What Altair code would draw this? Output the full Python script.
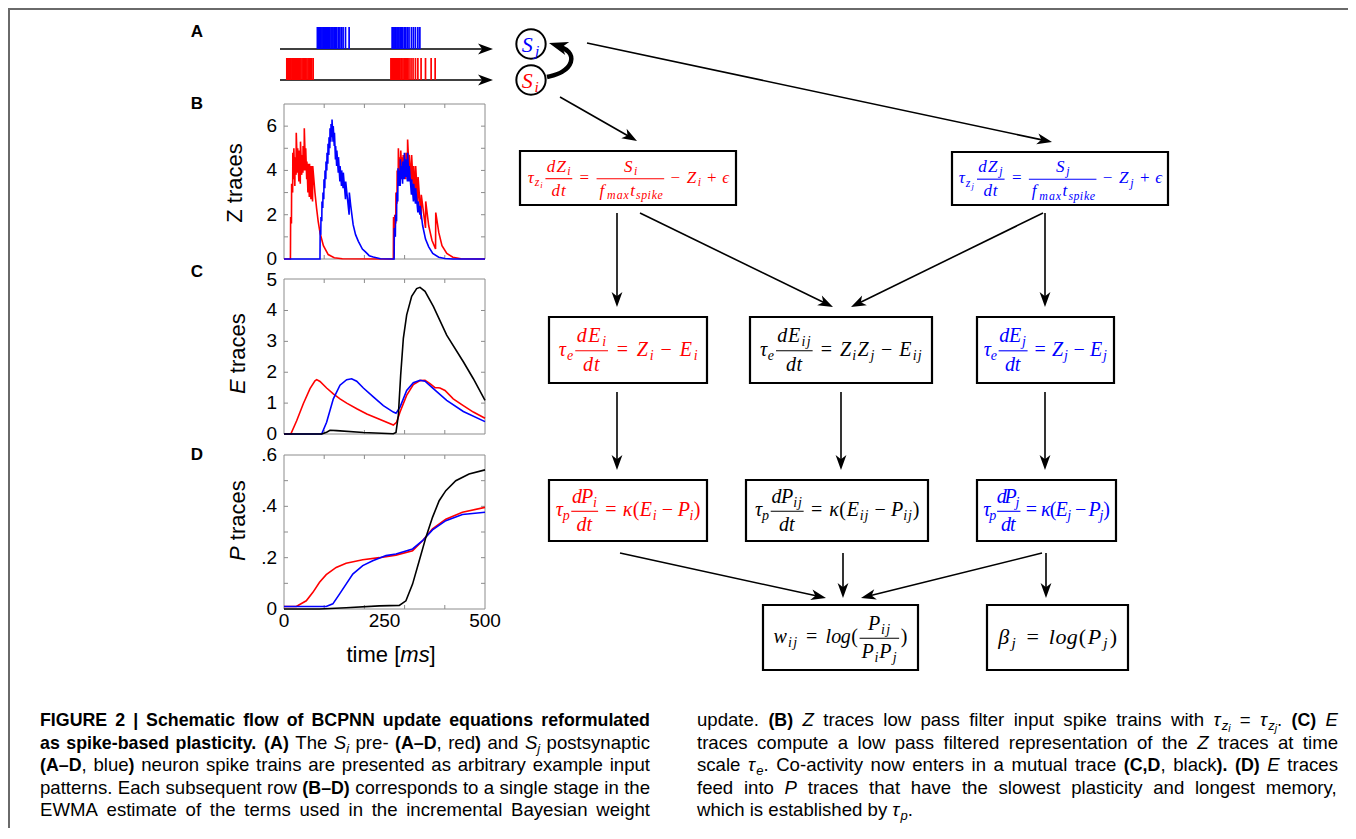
import math
import altair as alt
import pandas as pd

# ============================ data ============================
# A: spike times [ms]
spikes_pre = [7, 9, 11.5, 13, 15.5, 17.5, 20, 22, 24.5, 27, 29, 31.5, 34, 36.5, 39, 42, 45, 48, 51, 54, 57, 60, 63, 66, 69, 72.5,
              266, 268, 270.5, 273, 275, 278, 280, 283, 285.5, 288, 291, 293, 296, 299, 302, 305, 308, 311, 316, 321, 327,
              333, 341, 352, 366, 376]
spikes_post = [83, 85, 87.5, 90, 92, 94.5, 97, 99, 101.5, 104, 106, 109, 111.5, 114, 117, 119.5, 122, 125, 128, 131, 135,
               139, 143, 147, 153, 162,
               269, 271, 273.5, 276, 278, 281, 283.5, 286, 289, 292, 295, 299, 303, 307, 311, 317, 322, 327, 333, 338]

# B: Z traces (time ms, value)
z_pre = [(0, 0), (16, 0), (16.5, 1.9), (18.5, 1.6), (19, 3.4), (21.5, 3.0), (22, 4.8), (24, 3.6), (24.5, 5.0), (27, 3.3),
         (27.5, 4.6), (30, 3.8), (30.5, 5.7), (33.5, 3.9), (34, 5.0), (37, 3.5), (37.5, 4.9), (40.5, 3.4), (41, 5.3),
         (44, 3.8), (44.5, 4.7), (47, 3.9), (47.5, 5.1), (50, 4.0), (50.5, 5.9), (53.5, 4.0), (54, 5.0), (56.5, 3.6),
         (57, 4.4), (59.5, 3.0), (60, 4.3), (63, 2.8), (63.5, 4.3), (67, 2.7), (67.5, 4.2), (71, 2.6), (71.5, 4.2),
         (77, 3.0), (81, 2.3), (85, 1.7), (90, 1.15), (98, 0.6), (110, 0.2), (125, 0.06), (145, 0.01), (272, 0),
         (272.5, 1.9), (275, 1.2), (275.5, 2.0), (278, 1.6), (278.5, 3.0), (281, 2.5), (281.5, 4.0), (284, 3.3),
         (284.5, 5.0), (287, 3.8), (287.5, 4.6), (290, 3.6), (290.5, 4.9), (293, 3.8), (293.5, 4.6), (296, 3.9),
         (296.5, 4.7), (299, 3.7), (299.5, 4.4), (303, 3.6), (303.5, 4.8), (307, 4.0), (307.5, 5.4), (311, 4.0),
         (311.5, 4.7), (317, 3.5), (317.5, 4.7), (322, 3.1), (322.5, 4.2), (327, 2.9), (327.5, 4.2), (333, 2.5),
         (333.5, 3.7), (341, 1.8), (341.5, 2.9), (352, 1.4), (352.5, 2.6), (360, 1.5), (368, 0.85), (377, 0.45),
         (377.5, 2.1), (385, 1.2), (393, 0.6), (405, 0.25), (420, 0.08), (440, 0.01), (500, 0)]
z_post = [(0, 0), (89.5, 0), (90, 1.3), (91.5, 1.1), (92, 1.9), (94, 1.7), (94.5, 2.6), (96.5, 2.3), (97, 3.0), (99, 2.7),
          (99.5, 3.6), (101.5, 3.2), (102, 4.0), (104, 3.6), (104.5, 4.4), (106.5, 4.0), (107, 4.8), (109, 4.3),
          (109.5, 5.2), (111.5, 4.7), (112, 5.5), (114, 5.0), (114.5, 5.9), (116.5, 5.3), (117, 6.1), (119, 5.5),
          (119.5, 6.3), (122, 5.3), (122.5, 6.0), (125, 5.1), (125.5, 5.7), (128, 4.5), (128.5, 5.1), (131, 4.2),
          (131.5, 4.9), (135, 3.9), (135.5, 4.6), (139, 3.5), (139.5, 4.2), (143, 3.3), (143.5, 4.0), (147, 3.2),
          (147.5, 3.9), (153, 2.7), (153.5, 3.5), (162, 2.0), (162.5, 3.0), (166, 2.4), (172, 1.55), (178, 1.1),
          (185, 0.8), (195, 0.45), (202, 0.33), (212, 0.15), (222, 0.09), (240, 0.01), (274, 0), (274.5, 1.4),
          (277, 1.0), (277.5, 2.0), (280, 1.7), (280.5, 3.0), (283, 2.6), (283.5, 4.1), (286, 3.3), (286.5, 4.0),
          (289, 3.3), (289.5, 4.5), (292, 3.6), (292.5, 4.2), (295, 3.4), (295.5, 4.4), (299, 3.6), (299.5, 4.8),
          (303, 3.7), (303.5, 4.5), (307, 3.5), (307.5, 4.8), (311, 3.5), (311.5, 4.2), (317, 2.9), (317.5, 3.6),
          (322, 2.6), (322.5, 3.4), (327, 2.5), (327.5, 3.2), (333, 2.1), (333.5, 2.6), (338, 2.0), (338.5, 2.4),
          (345, 1.5), (352, 0.9), (360, 0.55), (370, 0.25), (385, 0.08), (400, 0.02), (420, 0), (500, 0)]

# C: E traces
e_pre = [(0, 0), (17, 0), (31.5, 0.43), (48, 0.98), (64.7, 1.47), (77, 1.72), (81.3, 1.76), (89.6, 1.7), (106, 1.49),
         (122.7, 1.3), (139.3, 1.14), (156, 1.0), (181, 0.82), (206, 0.65), (239, 0.47), (272, 0.29), (280, 0.38),
         (288.6, 0.71), (305, 1.25), (321.7, 1.6), (338.3, 1.73), (350.8, 1.74), (363.2, 1.63), (375.6, 1.5),
         (383, 1.5), (388, 1.49), (400.5, 1.41), (421, 1.14), (446, 0.92), (471, 0.71), (500, 0.51)]
e_post = [(0, 0), (93.7, 0), (106, 0.38), (122.7, 1.14), (139.3, 1.58), (155.9, 1.76), (168.3, 1.79), (180.8, 1.71),
          (197.4, 1.49), (222.2, 1.2), (247.1, 0.92), (272, 0.71), (278.6, 0.67), (288.6, 0.87), (305.2, 1.41),
          (321.7, 1.66), (338.3, 1.74), (350.8, 1.71), (371.5, 1.47), (404.7, 1.09), (446.1, 0.73), (500, 0.4)]
e_co = [(0, 0), (93.7, 0), (106, 0.06), (114.4, 0.12), (131, 0.11), (197.4, 0.05), (272, 0.01), (278.6, 0.05),
        (284.4, 0.6), (290.2, 1.9), (296.9, 3.1), (305.2, 3.86), (317.6, 4.46), (330, 4.71), (338.3, 4.75),
        (350.8, 4.62), (371.5, 4.13), (404.7, 3.2), (446.1, 2.34), (471, 1.79), (500, 1.09)]

# D: P traces
p_pre = [(0, 0.01), (30.6, 0.01), (55.4, 0.032), (71.9, 0.065), (88.4, 0.104), (105, 0.134), (129.8, 0.162),
         (154.5, 0.178), (195.9, 0.192), (237.2, 0.2), (278.5, 0.21), (319.8, 0.227), (344.6, 0.266), (369.4, 0.312),
         (402.5, 0.35), (443.8, 0.377), (500, 0.396)]
p_post = [(0, 0.01), (105, 0.01), (121.5, 0.02), (138, 0.058), (154.5, 0.097), (171.1, 0.136), (195.9, 0.169),
          (220.7, 0.188), (253.7, 0.208), (278.5, 0.214), (319.8, 0.234), (344.6, 0.266), (369.4, 0.308),
          (402.5, 0.344), (443.8, 0.368), (500, 0.377)]
p_co = [(0, 0), (88, 0), (154.5, 0.005), (237.2, 0.012), (286.8, 0.014), (303.3, 0.032), (319.8, 0.097),
        (336.4, 0.188), (352.9, 0.279), (369.4, 0.357), (386, 0.422), (402.5, 0.461), (427.3, 0.5), (460.3, 0.526),
        (500, 0.542)]

z_labels = [0, 2, 4, 6]
z_ticks = [1, 2, 3, 4, 5, 6]
e_labels = [0, 1, 2, 3, 4, 5]
e_ticks = [1, 2, 3, 4]
p_label_vals = [0, 0.2, 0.4, 0.6]
p_label_txt = ['0', '.2', '.4', '.6']
p_ticks = [0.1, 0.2, 0.3, 0.4, 0.5]
t_labels = [0, 250, 500]
t_ticks = [100, 200, 300, 400]

caption_left = [
    [('b', 'FIGURE 2 | Schematic flow of BCPNN update equations reformulated')],
    [('b', 'as spike-based plasticity. (A)'), ('r', ' The '), ('i', 'S'), ('s', 'i'), ('r', ' pre- '), ('b', '(A–D'),
     ('r', ', red'), ('b', ')'), ('r', ' and '), ('i', 'S'), ('s', 'j'), ('r', ' postsynaptic')],
    [('b', '(A–D'), ('r', ', blue'), ('b', ')'), ('r', ' neuron spike trains are presented as arbitrary example input')],
    [('r', 'patterns. Each subsequent row '), ('b', '(B–D)'), ('r', ' corresponds to a single stage in the')],
    [('r', 'EWMA estimate of the terms used in the incremental Bayesian weight')],
]
caption_right = [
    [('r', 'update. '), ('b', '(B)'), ('r', ' '), ('i', 'Z'), ('r', ' traces low pass filter input spike trains with '),
     ('i', 'τ'), ('s', 'z'), ('ss', 'i'), ('r', ' = '), ('i', 'τ'), ('s', 'z'), ('ss', 'j'), ('r', '. '), ('b', '(C)'),
     ('r', ' '), ('i', 'E')],
    [('r', 'traces compute a low pass filtered representation of the '), ('i', 'Z'), ('r', ' traces at time')],
    [('r', 'scale '), ('i', 'τ'), ('s', 'e'), ('r', '. Co-activity now enters in a mutual trace '), ('b', '(C,D'),
     ('r', ', black'), ('b', ').'), ('r', ' '), ('b', '(D)'), ('r', ' '), ('i', 'E'), ('r', ' traces')],
    [('r', 'feed into '), ('i', 'P'), ('r', ' traces that have the slowest plasticity and longest memory,')],
    [('r', 'which is established by '), ('i', 'τ'), ('s', 'p'), ('r', '.')],
]

# ============================ layout / style ============================
W, H = 1340, 820
OX, OY = 8, 8
PX0, PX1 = 284, 485
RED, BLUE, BLACK = '#ff0000', '#0000ff', '#000000'
SANS = 'Liberation Sans, Arial, Helvetica, sans-serif'
SERIF = 'Liberation Serif, DejaVu Serif, serif'
GRAY = '#8c8c8c'

XC = alt.Scale(domain=[OX, OX + W], range=[0, W], nice=False, zero=False)
YC = alt.Scale(domain=[OY, OY + H], range=[0, H], nice=False, zero=False)
XT = alt.Scale(domain=[0, 500], range=[PX0 - OX, PX1 - OX], nice=False, zero=False)


def cx(f):
    return alt.X(f + ':Q', scale=XC, axis=None)


def cy(f):
    return alt.Y(f + ':Q', scale=YC, axis=None)


rows = []


def add_text(x, y, text, size, color=BLACK, font=SANS, style='normal', weight='normal', align='left',
             baseline='alphabetic', angle=0):
    rows.append(dict(x=x, y=y, text=text, size=size, color=color, font=font, style=style, weight=weight,
                     align=align, baseline=baseline, angle=angle))


# ---------------- equation typesetting (Computer Modern-like advances) ----------------
CMI = dict(a=.529, b=.429, c=.433, d=.520, e=.466, f=.490, g=.477, h=.576, i=.345, j=.412, k=.521, l=.298, m=.878,
           n=.600, o=.485, p=.503, q=.446, r=.451, s=.469, t=.361, u=.572, v=.485, w=.716, x=.572, y=.490, z=.465,
           E=.738, P=.642, S=.613, Z=.681)
CMI.update({'τ': .438, 'κ': .576, 'β': .566, 'ϵ': .406})
CMR = {'(': .389, ')': .389, '=': .778, '+': .778, '−': .778}
SC = {'i': 1.0, 'r': 1.0, 's': 0.7, 'ss': 0.5}
DY = {'i': 0, 'r': 0, 's': 0.2, 'ss': 0.3}
AXH, NUM, DEN = 0.25, 0.42, 1.0


def I(t): return ('i', t)
def R(t): return ('r', t)
def S(t): return ('s', t)
def SS(t): return ('ss', t)
def SP(w): return ('sp', w)
def FR(n, d): return ('frac', n, d)


REL = [SP(.2778), R('='), SP(.2778)]


def BIN(c):
    return [SP(.2222), R(c), SP(.2222)]


def measure(items):
    w = 0.0
    for it in items:
        if it[0] == 'sp':
            w += it[1]
        elif it[0] == 'frac':
            w += max(measure(it[1]), measure(it[2])) + 0.24
        else:
            tbl = CMR if it[0] == 'r' else CMI
            w += sum(tbl.get(c, .5) for c in it[1]) * SC[it[0]]
    return w


bars = []


def emit(items, x, base, fs, color, hs=1.0):
    for it in items:
        k = it[0]
        if k == 'sp':
            x += it[1] * fs * hs
        elif k == 'frac':
            fw = (max(measure(it[1]), measure(it[2])) + 0.24) * fs * hs
            axis = base - AXH * fs
            nw, dw = measure(it[1]) * fs * hs, measure(it[2]) * fs * hs
            emit(it[1], x + (fw - nw) / 2, axis - NUM * fs, fs, color, hs)
            emit(it[2], x + (fw - dw) / 2, axis + DEN * fs, fs, color, hs)
            bars.append(dict(x=x + 0.05 * fs, x2=x + fw - 0.05 * fs, y=axis, color=color))
            x += fw
        else:
            tbl = CMR if k == 'r' else CMI
            sc = SC[k]
            for c in it[1]:
                adv = tbl.get(c, .5) * fs * sc * hs
                add_text(x + adv / 2, base + DY[k] * fs, c, fs * sc, color, SERIF,
                         'normal' if k == 'r' else 'italic', 'normal', 'center')
                x += adv
    return x


def place_eq(items, box, fs, color, target):
    x0, y0, x1, y1 = box
    hs = target / (measure(items) * fs)
    axis = (y0 + y1) / 2 + 0.04 * fs
    emit(items, (x0 + x1) / 2 - target / 2, axis + AXH * fs, fs, color, hs)


boxes = {
    'zi': (520, 151, 736, 205), 'zj': (952, 152, 1168, 205),
    'ei': (549, 317, 707, 383), 'eij': (750, 317, 932, 383), 'ej': (977, 317, 1114, 383),
    'pi': (549, 480, 707, 541), 'pij': (746, 480, 928, 541), 'pj': (977, 480, 1116, 541),
    'w': (763, 605, 918, 670), 'b': (987, 605, 1128, 670),
}


def eq_z(k):
    return ([I('τ'), S('z'), SS(k), SP(.1), FR([I('dZ'), S(k)], [I('dt')])] + REL +
            [FR([I('S'), S(k)], [I('f'), S('max'), I('t'), S('spike')])] + BIN('−') + [I('Z'), S(k)] + BIN('+') +
            [I('ϵ')])


def eq_e(k):
    rhs = [I('Z'), S('i'), I('Z'), S('j')] if k == 'ij' else [I('Z'), S(k)]
    return [I('τ'), S('e'), SP(.05), FR([I('dE'), S(k)], [I('dt')])] + REL + rhs + BIN('−') + [I('E'), S(k)]


def eq_p(k):
    return ([I('τ'), S('p'), SP(.05), FR([I('dP'), S(k)], [I('dt')])] + REL + [I('κ'), R('('), I('E'), S(k)] +
            BIN('−') + [I('P'), S(k), R(')')])


place_eq(eq_z('i'), boxes['zi'], 17, RED, 202)
place_eq(eq_z('j'), boxes['zj'], 17, BLUE, 204)
place_eq(eq_e('i'), boxes['ei'], 20, RED, 140)
place_eq(eq_e('ij'), boxes['eij'], 20, BLACK, 163)
place_eq(eq_e('j'), boxes['ej'], 20, BLUE, 124)
place_eq(eq_p('i'), boxes['pi'], 20, RED, 145)
place_eq(eq_p('ij'), boxes['pij'], 20, BLACK, 165)
place_eq(eq_p('j'), boxes['pj'], 20, BLUE, 126)
place_eq([I('w'), S('ij')] + REL + [I('log'), R('('), FR([I('P'), S('ij')], [I('P'), S('i'), I('P'), S('j')]), R(')')],
         boxes['w'], 20, BLACK, 135)
place_eq([I('β'), S('j')] + REL + [I('log'), R('('), I('P'), S('j'), R(')')], boxes['b'], 22, BLACK, 121)

# neuron nodes
circles = [dict(x=531, y=44), dict(x=531, y=80)]
emit([I('S'), S('j')], 531 - 10.5, 44 + 7.5, 22, BLUE)
emit([I('S'), S('i')], 531 - 10.5, 80 + 7.5, 22, RED)

# ---------------- arrows ----------------
shafts, heads = [], []


def arrow(x1, y1, x2, y2, L=15):
    dx, dy = x2 - x1, y2 - y1
    n = math.hypot(dx, dy)
    ux, uy = dx / n, dy / n
    shafts.append(dict(x=x1, y=y1, x2=x2 - ux * L * 0.6, y2=y2 - uy * L * 0.6))
    heads.append(dict(x=x2, y=y2, ang=math.degrees(math.atan2(dx, -dy)) % 360, size=L * L))


for a in [(560, 97, 637, 141), (587, 43, 1052, 142), (617, 213, 617, 307), (640, 213, 833, 307),
          (1043, 213, 851, 307), (1045, 213, 1045, 307), (617, 392, 617, 470), (841, 392, 841, 470),
          (1045, 392, 1045, 470), (620, 553, 826, 598), (843, 553, 843, 598), (1042, 553, 861, 598),
          (1046, 553, 1046, 598)]:
    arrow(*a)
# input-train arrows of panel A
arrow(280, 49, 493, 49)
arrow(280, 80, 493, 80)
# thick self-connection arc
arc = [(547, 77), (563, 73), (573, 62), (570, 51), (559, 46)]
heads.append(dict(x=549, y=43, ang=math.degrees(math.atan2(-10, 3)) % 360, size=19 * 19))

# ---------------- labels ----------------
for lab, y in [('A', 32), ('B', 104), ('C', 272), ('D', 455)]:
    add_text(197, y, lab, 17, weight='bold', align='center', baseline='middle')

add_text(235, 183, 'Z traces', 22, align='center', baseline='middle', angle=270)
for letter, yc in [('E', 354), ('P', 521)]:
    ybot = yc + 40
    add_text(238, ybot, letter, 22, style='italic', baseline='middle', angle=270)
    add_text(238, ybot - 14.7 - 6.1, 'traces', 22, baseline='middle', angle=270)
add_text(346.5, 655, 'time [', 22, baseline='middle')
add_text(400.3, 655, 'ms', 22, style='italic', baseline='middle')
add_text(429.6, 655, ']', 22, baseline='middle')

# ---------------- caption ----------------
HR = {' ': 278, '(': 333, ')': 333, ',': 278, '-': 333, '.': 278, '|': 260, '–': 556, '=': 584, '[': 278, ']': 278,
      'τ': 440, 'A': 667, 'B': 667, 'C': 722, 'D': 722, 'E': 667, 'F': 611, 'G': 778, 'H': 722, 'I': 278, 'J': 500,
      'K': 667, 'L': 556, 'M': 833, 'N': 722, 'O': 778, 'P': 667, 'Q': 778, 'R': 722, 'S': 667, 'T': 611, 'U': 722,
      'V': 667, 'W': 944, 'X': 667, 'Y': 667, 'Z': 611, 'a': 556, 'b': 556, 'c': 500, 'd': 556, 'e': 556, 'f': 278,
      'g': 556, 'h': 556, 'i': 222, 'j': 222, 'k': 500, 'l': 222, 'm': 833, 'n': 556, 'o': 556, 'p': 556, 'q': 556,
      'r': 333, 's': 500, 't': 278, 'u': 556, 'v': 500, 'w': 722, 'x': 500, 'y': 500, 'z': 500}
for dgt in '0123456789':
    HR[dgt] = 556
HB = dict(HR)
HB.update({'A': 722, 'B': 722, 'C': 722, 'D': 722, 'J': 556, 'K': 722, 'L': 611, 'b': 611, 'c': 556, 'd': 611,
           'f': 333, 'g': 611, 'h': 611, 'i': 278, 'j': 278, 'k': 556, 'l': 278, 'm': 889, 'n': 611, 'o': 611,
           'p': 611, 'q': 611, 'r': 389, 's': 556, 't': 333, 'u': 611, 'v': 556, 'w': 778, 'x': 556, 'y': 556,
           '|': 280})
FS_REG, FS_BOLD = 18.6, 17.8
CAP_SC = {'s': 0.7, 'ss': 0.55}
CAP_DY = {'s': 0.22, 'ss': 0.34}


def cap_fs(style):
    return (FS_BOLD if style == 'b' else FS_REG) * CAP_SC.get(style, 1)


def words_of(segs):
    words = [[]]
    for style, txt in segs:
        for k, p in enumerate(txt.split(' ')):
            if k > 0:
                words.append([])
            if p:
                words[-1].append((style, p))
    return [w for w in words if w]


def cap_w(style, txt):
    tbl = HB if style == 'b' else HR
    return sum(tbl.get(c, 556) for c in txt) / 1000 * cap_fs(style)


def caption_line(segs, x0, x1, base, justify):
    words = words_of(segs)
    ww = [sum(cap_w(s, t) for s, t in w) for w in words]
    gap = (x1 - x0 - sum(ww)) / (len(words) - 1) if justify else 0.278 * FS_REG
    x = x0
    for w, wd in zip(words, ww):
        xx = x
        for s, t in w:
            add_text(xx, base + CAP_DY.get(s, 0) * FS_REG, t, cap_fs(s),
                     style='italic' if s in ('i', 's', 'ss') else 'normal', weight='bold' if s == 'b' else 'normal')
            xx += cap_w(s, t)
        x += wd + gap


cap_base = [726, 749, 771, 794, 816]
for i, segs in enumerate(caption_left):
    caption_line(segs, 40, 650, cap_base[i], True)
for i, segs in enumerate(caption_right):
    caption_line(segs, 697, 1338, cap_base[i], i < len(caption_right) - 1)

# ============================ canvas layer ============================
frame = pd.DataFrame([dict(x=9, y=8, x2=9, y2=OY + H), dict(x=8, y=9, x2=1349, y2=9),
                      dict(x=1349, y=8, x2=1349, y2=OY + H)])
L = []
L.append(alt.Chart(frame).mark_rule(color='#6a6a6a', strokeWidth=2).encode(x=cx('x'), y=cy('y'), x2='x2:Q', y2='y2:Q'))
L.append(alt.Chart(pd.DataFrame(shafts)).mark_rule(color=BLACK, strokeWidth=1.6).encode(
    x=cx('x'), y=cy('y'), x2='x2:Q', y2='y2:Q'))
arc_df = pd.DataFrame(arc, columns=['x', 'y'])
arc_df['k'] = range(len(arc_df))
L.append(alt.Chart(arc_df).mark_line(color=BLACK, strokeWidth=4.5, interpolate='basis').encode(
    x=cx('x'), y=cy('y'), order='k:Q'))
L.append(alt.Chart(pd.DataFrame(heads)).mark_point(shape='M0,0 L0.72,2 L0,1.45 L-0.72,2 Z', filled=True,
                                                    color=BLACK, opacity=1).encode(
    x=cx('x'), y=cy('y'), angle=alt.Angle('ang:Q', scale=None), size=alt.Size('size:Q', scale=None)))
box_df = pd.DataFrame([dict(x=b[0], y=b[1], x2=b[2], y2=b[3]) for b in boxes.values()])
L.append(alt.Chart(box_df).mark_rect(fill='white', stroke=BLACK, strokeWidth=2.2).encode(
    x=cx('x'), y=cy('y'), x2='x2:Q', y2='y2:Q'))
L.append(alt.Chart(pd.DataFrame(circles)).mark_point(shape='circle', size=860, filled=True, fill='white',
                                                     stroke=BLACK, strokeWidth=2, opacity=1).encode(x=cx('x'), y=cy('y')))
L.append(alt.Chart(pd.DataFrame(bars)).mark_rule(strokeWidth=1.1).encode(
    x=cx('x'), x2='x2:Q', y=cy('y'), color=alt.Color('color:N', scale=None)))

tdf = pd.DataFrame(rows)
for key, g in tdf.groupby(['font', 'style', 'weight', 'align', 'baseline'], sort=False):
    font, style, weight, align, baseline = key
    g = g[['x', 'y', 'text', 'size', 'color', 'angle']].reset_index(drop=True)
    L.append(alt.Chart(g).mark_text(font=font, fontStyle=style, fontWeight=weight, align=align,
                                    baseline=baseline).encode(
        x=cx('x'), y=cy('y'), text='text:N', size=alt.Size('size:Q', scale=None),
        color=alt.Color('color:N', scale=None), angle=alt.Angle('angle:Q', scale=None)))
canvas = alt.layer(*L)

# ============================ panel A (spike trains) ============================
sp = pd.DataFrame([dict(t=t, y=58, y2=80, c=RED) for t in spikes_pre] +
                  [dict(t=t, y=27, y2=49, c=BLUE) for t in spikes_post])
panel_a = alt.Chart(sp).mark_rule(strokeWidth=1.7).encode(
    x=alt.X('t:Q', scale=XT, axis=None), y=cy('y'), y2='y2:Q', color=alt.Color('c:N', scale=None))


# ============================ panels B, C, D ============================
def panel(series, top, bottom, ymax, lab_vals, lab_txt, tick_vals, xlabels):
    ys = alt.Scale(domain=[0, ymax], range=[bottom - OY, top - OY], nice=False, zero=False)

    def X(f):
        return alt.X(f + ':Q', scale=XT, axis=None)

    def Y(f):
        return alt.Y(f + ':Q', scale=ys, axis=None)

    P = []
    P.append(alt.Chart(pd.DataFrame({'a': [0], 'b': [500], 'c': [0], 'd': [ymax]})).mark_rect(
        fillOpacity=0, stroke=GRAY, strokeWidth=1).encode(x=X('a'), x2='b:Q', y=Y('c'), y2='d:Q'))
    yt = pd.DataFrame({'v': tick_vals})
    P.append(alt.Chart(yt).mark_rule(color=GRAY).encode(y=Y('v'), x=alt.value(PX0 - OX), x2=alt.value(PX0 - OX + 4)))
    P.append(alt.Chart(yt).mark_rule(color=GRAY).encode(y=Y('v'), x=alt.value(PX1 - OX - 4), x2=alt.value(PX1 - OX)))
    xt = pd.DataFrame({'t': t_ticks})
    P.append(alt.Chart(xt).mark_rule(color=GRAY).encode(x=X('t'), y=alt.value(top - OY), y2=alt.value(top - OY + 4)))
    P.append(alt.Chart(xt).mark_rule(color=GRAY).encode(x=X('t'), y=alt.value(bottom - OY - 4),
                                                         y2=alt.value(bottom - OY)))
    for pts, col in series:
        df = pd.DataFrame(pts, columns=['t', 'v'])
        df['k'] = range(len(df))
        P.append(alt.Chart(df).mark_line(color=col, strokeWidth=1.6).encode(x=X('t'), y=Y('v'), order='k:Q'))
    lab = pd.DataFrame({'v': lab_vals, 's': lab_txt})
    P.append(alt.Chart(lab).mark_text(font=SANS, fontSize=19, align='right', baseline='middle').encode(
        y=Y('v'), x=alt.value(PX0 - OX - 7), text='s:N'))
    if xlabels:
        xl = pd.DataFrame({'t': t_labels, 's': [str(v) for v in t_labels]})
        P.append(alt.Chart(xl).mark_text(font=SANS, fontSize=19, align='center', baseline='middle').encode(
            x=X('t'), y=alt.value(bottom - OY + 12), text='s:N'))
    return alt.layer(*P)


panel_b = panel([(z_pre, RED), (z_post, BLUE)], 104, 259, 7, z_labels, [str(v) for v in z_labels], z_ticks, False)
panel_c = panel([(e_pre, RED), (e_post, BLUE), (e_co, BLACK)], 279, 434, 5.02, e_labels,
                [str(v) for v in e_labels], e_ticks, False)
panel_d = panel([(p_pre, RED), (p_post, BLUE), (p_co, BLACK)], 455, 609, 0.6, p_label_vals, p_label_txt, p_ticks,
                True)

chart = alt.layer(canvas, panel_a, panel_b, panel_c, panel_d).resolve_scale(
    x='independent', y='independent').properties(
    width=W, height=H, padding=0, autosize=alt.AutoSizeParams(type='none'), background='white'
).configure_view(stroke='transparent')

chart.save("out.html", embed_options={"renderer": "svg", "actions": False})
